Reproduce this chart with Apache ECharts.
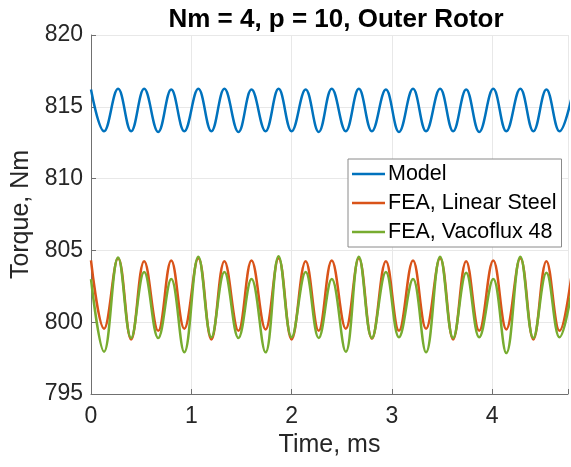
<!DOCTYPE html>
<html>
<head>
<meta charset="utf-8">
<script src="https://cdn.jsdelivr.net/npm/echarts@6/dist/echarts.min.js"></script>
<style>html,body{margin:0;padding:0;background:#fff;}#c{width:571px;height:467px;}</style>
</head>
<body>
<div id="c"></div>
<script>
// Time of each extreme (ms)
const timeMs = [0, 0.13, 0.27, 0.40, 0.53, 0.67, 0.80, 0.93, 1.07, 1.20, 1.33, 1.47, 1.60, 1.74, 1.87, 2.00, 2.14, 2.27, 2.40, 2.54, 2.67, 2.80, 2.94, 3.07, 3.21, 3.34, 3.48, 3.61, 3.74, 3.87, 4.01, 4.14, 4.28, 4.41, 4.54, 4.67, 4.81];
const modelTorque = [816.2, 813.3, 816.25, 813.3, 816.25, 813.25, 816.2, 813.3, 816.25, 813.3, 816.25, 813.25, 816.2, 813.3, 816.25, 813.3, 816.2, 813.25, 816.25, 813.3, 816.25, 813.3, 816.2, 813.25, 816.25, 813.3, 816.25, 813.3, 816.2, 813.25, 816.25, 813.3, 816.25, 813.3, 816.2, 813.3, 816.25];
const feaLinear = [804.3, 799.55, 804.45, 798.8, 804.25, 799.4, 804.3, 799.55, 804.45, 798.8, 804.25, 799.4, 804.3, 799.5, 804.45, 798.8, 804.25, 799.4, 804.3, 799.55, 804.45, 798.85, 804.25, 799.4, 804.3, 799.55, 804.45, 798.8, 804.25, 799.4, 804.3, 799.5, 804.45, 798.8, 804.25, 799.4, 804.3];
const feaVacoflux = [803.0, 797.95, 804.5, 798.9, 803.5, 798.9, 803.0, 797.9, 804.55, 798.95, 803.5, 798.9, 803.0, 797.9, 804.6, 798.95, 803.5, 798.9, 803.0, 797.95, 804.55, 798.9, 803.5, 798.95, 803.0, 797.9, 804.55, 798.9, 803.45, 798.95, 803.0, 797.85, 804.55, 798.9, 803.45, 798.95, 803.0];
const seriesNames = ['Model', 'FEA, Linear Steel', 'FEA, Vacoflux 48'];
const seriesColors = ['#0072BD', '#D95319', '#77AC30'];
const xTicks = [0, 1, 2, 3, 4];
const yTicks = [795, 800, 805, 810, 815, 820];

const font = "'Liberation Sans', Arial, Helvetica, sans-serif";
const pairs = arr => timeMs.map((t, i) => [t, arr[i]]);
const allData = [modelTorque, feaLinear, feaVacoflux];

const chart = echarts.init(document.getElementById('c'), null, {renderer: 'canvas'});
chart.setOption({
  animation: false,
  backgroundColor: '#ffffff',
  title: {
    text: 'Nm = 4, p = 10, Outer Rotor',
    left: 331, top: 2, textAlign: 'center',
    textStyle: {fontFamily: font, fontWeight: 'bold', fontSize: 26, color: '#000'}
  },
  grid: {left: 91, top: 35, right: 0, bottom: 73, containLabel: false},
  legend: {
    orient: 'vertical', left: 348, top: 159,
    padding: [4, 5, 4, 4], itemGap: 7, itemWidth: 33, itemHeight: 2.5, icon: 'rect',
    backgroundColor: '#ffffff', borderColor: '#8a8a8a', borderWidth: 1, borderRadius: 0,
    textStyle: {fontFamily: font, fontSize: 21.5, color: '#000', lineHeight: 20, padding: [0, 0, 0, -2]},
    data: seriesNames
  },
  xAxis: {
    type: 'value', min: xTicks[0], max: 4.755, interval: 1,
    name: 'Time, ms', nameLocation: 'middle', nameGap: 38,
    nameTextStyle: {fontFamily: font, fontSize: 25, color: '#262626'},
    axisLine: {show: true, lineStyle: {color: '#707070', width: 1}},
    axisTick: {show: true, inside: true, length: 5, lineStyle: {color: '#707070'}},
    axisLabel: {fontFamily: font, fontSize: 23, color: '#262626', margin: 11,
      formatter: v => xTicks.includes(v) ? String(v) : ''},
    splitLine: {show: true, lineStyle: {color: '#e8e8e8', width: 1}}
  },
  yAxis: {
    type: 'value', min: yTicks[0], max: yTicks[yTicks.length - 1], interval: 5,
    name: 'Torque, Nm', nameLocation: 'middle', nameGap: 57, nameRotate: 90,
    nameTextStyle: {fontFamily: font, fontSize: 25, color: '#262626'},
    axisLine: {show: true, lineStyle: {color: '#707070', width: 1}},
    axisTick: {show: true, inside: true, length: 5, lineStyle: {color: '#707070'}},
    axisLabel: {fontFamily: font, fontSize: 23, color: '#262626', margin: 8},
    splitLine: {show: true, lineStyle: {color: '#e8e8e8', width: 1}}
  },
  series: seriesNames.map((name, i) => ({
    name: name, type: 'line', data: pairs(allData[i]),
    smooth: 0.4, symbol: 'none', clip: true,
    lineStyle: {color: seriesColors[i], width: 2.5},
    itemStyle: {color: seriesColors[i]}
  }))
});
</script>
</body>
</html>
